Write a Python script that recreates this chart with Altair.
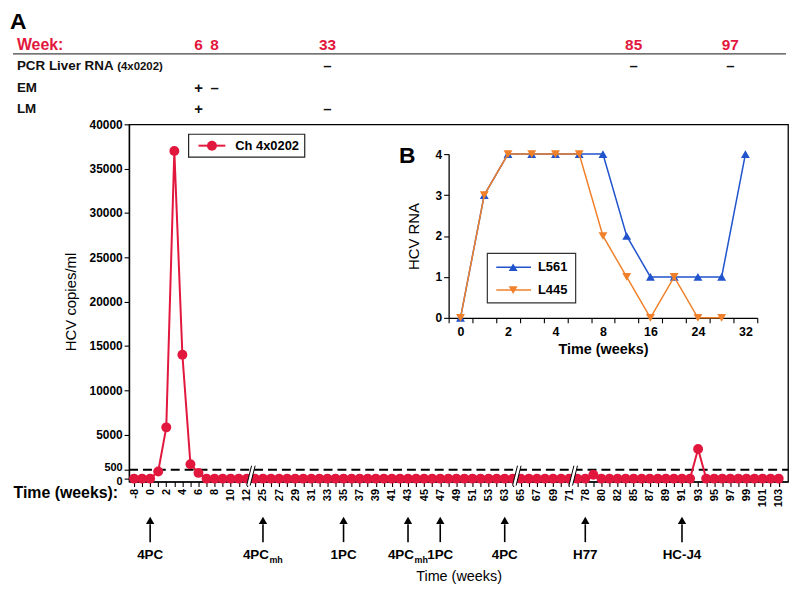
import altair as alt
import pandas as pd

RED = "#e2173d"
BLUE = "#2153cc"
ORANGE = "#f0802a"
FONT = "Liberation Sans"

# ---------------- data (panel A) ----------------
weeks = [-8, -4, 0, 1, 2, 3, 4, 5, 6, 7, 8, 9, 10, 11, 12,
         24, 25, 26, 27, 28, 29, 30, 31, 32, 33, 34, 35, 36, 37, 38, 39, 40,
         41, 42, 43, 44, 45, 46, 47, 48, 49, 50, 51, 52, 53,
         54, 63, 64, 65, 66, 67, 68, 69, 70, 71, 72,
         78, 79, 80, 81, 82, 84, 85, 86, 87, 88, 89, 90, 91, 92, 93, 94, 95,
         96, 97, 98, 99, 100, 101, 102, 103]
hcv = [0, 0, 0, 400, 5800, 37000, 14000, 1200, 320, 0, 0, 0, 0, 0, 0,
       0, 0, 0, 0, 0, 0, 0, 0, 0, 0, 0, 0, 0, 0, 0, 0, 0,
       0, 0, 0, 0, 0, 0, 0, 0, 0, 0, 0, 0, 0,
       0, 0, 0, 0, 0, 0, 0, 0, 0, 0, 0,
       0, 220, 0, 0, 0, 0, 0, 0, 0, 0, 0, 0, 0, 0, 3150, 0, 0,
       0, 0, 0, 0, 0, 0, 0, 0]
detection_limit = [500]
y_ticks = [0, 500, 5000, 10000, 15000, 20000, 25000, 30000, 35000, 40000]
breaks = [14.5, 47.5, 54.5]

arrow_weeks = [0, 25, 35, 43, 47, 63, 78, 91]
arrow_labels = ["4PC", "4PC", "1PC", "4PC", "1PC", "4PC", "H77", "HC-J4"]
arrow_subs = ["", "mh", "", "mh", "", "", "", ""]

table_weeks = [6, 8, 33, 85, 97]
pcr_weeks, pcr_signs = [33, 85, 97], ["–", "–", "–"]
em_weeks, em_signs = [6, 8], ["+", "–"]
lm_weeks, lm_signs = [6, 33], ["+", "–"]

# ---------------- data (panel B) ----------------
inset_weeks = ["0", "1", "2", "3", "4", "6", "8", "12", "16", "20", "24", "28", "32"]
inset_labels = ["0", "2", "4", "8", "16", "24", "32"]
l561 = [0, 3, 4, 4, 4, 4, 4, 2, 1, 1, 1, 1, 4]
l445 = [0, 3, 4, 4, 4, 4, 2, 1, 0, 1, 0, 0]

# ---------------- layout ----------------
W, H = 664, 360
PX = 8.12
one = pd.DataFrame({"k": [0]})

main_df = pd.DataFrame({"idx": list(range(len(weeks))), "week": weeks, "hcv": hcv})
xs = alt.Scale(domain=[-0.616, 81.16], nice=False, zero=False)
ys = alt.Scale(domain=[0, 500, 5000, 40000], range=[357, 348, 312.5, 0], nice=False, zero=False)

label_arr = "[" + ",".join("'%s'" % w for w in weeks) + "]"
xaxis = alt.Axis(values=list(range(len(weeks))),
                 labelExpr="datum.value % 2 == 0 ? " + label_arr + "[datum.value] : ''",
                 labelAngle=270, labelAlign="right", labelBaseline="middle",
                 labelFontSize=11, labelFontWeight="bold", labelPadding=2,
                 labelOverlap=False, labelFlush=False,
                 tickSize=5, grid=False,
                 title="Time (weeks)", titleFontSize=14.5, titleFontWeight="normal",
                 titleY=96, titleBaseline="middle")
yaxis = alt.Axis(values=y_ticks, format="d", labelFontWeight="bold",
                 labelFontSize=alt.ExprRef(expr="datum.value <= 500 ? 11 : 12"),
                 labelOffset=alt.ExprRef(expr="datum.value == 500 ? -2.5 : (datum.value == 0 ? 2.5 : 0)"),
                 labelOverlap=False, tickSize=5, grid=False, labelPadding=2,
                 title="HCV copies/ml", titleFontSize=15, titleFontWeight="normal",
                 titleX=-59, titleBaseline="middle")

Xq = alt.X("idx:Q", scale=xs, axis=xaxis)
Yq = alt.Y("hcv:Q", scale=ys, axis=yaxis)

dash = alt.Chart(pd.DataFrame({"hcv": detection_limit})).mark_rule(
    color="black", strokeWidth=2, strokeDash=[9, 5]).encode(
    x=alt.value(0), x2=alt.value(W), y=Yq)
line = alt.Chart(main_df).mark_line(color=RED, strokeWidth=2).encode(x=Xq, y=Yq)
dots = alt.Chart(main_df).mark_circle(color=RED, size=100, opacity=1).encode(x=Xq, y=Yq)

brk_rows = []
for b in breaks:
    for off, kind in [(0.0, "w"), (-1.8, "k"), (1.8, "k")]:
        brk_rows.append({"idx": b + (off - 2.5) / PX, "idx2": b + (off + 2.5) / PX, "kind": kind})
brk_df = pd.DataFrame(brk_rows)
brk_w = alt.Chart(brk_df).transform_filter("datum.kind == 'w'").mark_rule(
    color="white", strokeWidth=3.5).encode(
    x=Xq, x2="idx2:Q", y=alt.value(364), y2=alt.value(344))
brk_k = alt.Chart(brk_df).transform_filter("datum.kind == 'k'").mark_rule(
    color="black", strokeWidth=1).encode(
    x=Xq, x2="idx2:Q", y=alt.value(364), y2=alt.value(344))

# table above the plot
def idx_of(ws):
    return [weeks.index(w) for w in ws]

hdr_df = pd.DataFrame({"idx": idx_of(table_weeks), "t": [str(w) for w in table_weeks]})
hdr = alt.Chart(hdr_df).mark_text(color=RED, fontSize=15.5, fontWeight="bold",
                                  baseline="middle").encode(x=Xq, y=alt.value(-80), text="t:N")
week_lbl = alt.Chart(one).mark_text(text="Week:", color=RED, fontSize=16, fontWeight="bold",
                                    align="left", baseline="middle").encode(
    x=alt.value(-113), y=alt.value(-80))
hline = alt.Chart(one).mark_rule(color="#444", strokeWidth=1.2).encode(
    x=alt.value(-117), x2=alt.value(662), y=alt.value(-71))

row_layers = []
for ws, ss, yy in [(pcr_weeks, pcr_signs, -59), (em_weeks, em_signs, -37), (lm_weeks, lm_signs, -15)]:
    d = pd.DataFrame({"idx": idx_of(ws), "t": ss})
    row_layers.append(alt.Chart(d).mark_text(fontSize=15, fontWeight="bold", color="#111",
                                             baseline="middle").encode(
        x=Xq, y=alt.value(yy), text="t:N"))
for txt, yy, fs in [("PCR Liver RNA", -59, 13.5), ("EM", -37, 13.5), ("LM", -15, 13.5)]:
    row_layers.append(alt.Chart(one).mark_text(text=txt, fontSize=fs, fontWeight="bold",
                                               color="#111", align="left", baseline="middle").encode(
        x=alt.value(-113), y=alt.value(yy)))
row_layers.append(alt.Chart(one).mark_text(text="(4x0202)", fontSize=11.5, fontWeight="bold",
                                           color="#111", align="left", baseline="middle").encode(
    x=alt.value(-12), y=alt.value(-58)))

panel_a = alt.Chart(one).mark_text(text="A", fontSize=23, fontWeight="bold", align="left",
                                   baseline="middle").encode(x=alt.value(-120), y=alt.value(-103))
time_lbl = alt.Chart(one).mark_text(text="Time (weeks):", fontSize=16, fontWeight="bold",
                                    align="right", baseline="middle").encode(
    x=alt.value(-11), y=alt.value(372))

# arrows
arr_df = pd.DataFrame({"idx": idx_of(arrow_weeks), "lab": arrow_labels, "sub": arrow_subs})
shaft = alt.Chart(arr_df).mark_rule(color="black", strokeWidth=1.6).encode(
    x=Xq, y=alt.value(403), y2=alt.value(421))
head = alt.Chart(arr_df).mark_point(shape="triangle-up", filled=True, color="black",
                                    size=70, opacity=1).encode(x=Xq, y=alt.value(399))
arr_plain = alt.Chart(arr_df).transform_filter("datum.sub == ''").mark_text(
    fontSize=13.5, fontWeight="bold", baseline="middle").encode(x=Xq, y=alt.value(434), text="lab:N")
arr_main = alt.Chart(arr_df).transform_filter("datum.sub != ''").mark_text(
    fontSize=13.5, fontWeight="bold", baseline="middle", align="right", dx=6).encode(
    x=Xq, y=alt.value(434), text="lab:N")
arr_sub = alt.Chart(arr_df).transform_filter("datum.sub != ''").mark_text(
    fontSize=9, fontWeight="bold", baseline="middle", align="left", dx=6.5, dy=5).encode(
    x=Xq, y=alt.value(434), text="sub:N")

# legend A
leg_box = alt.Chart(one).mark_rect(fill="white", stroke="#222", strokeWidth=1.2).encode(
    x=alt.value(60), x2=alt.value(177), y=alt.value(10), y2=alt.value(33))
leg_line = alt.Chart(one).mark_rule(color=RED, strokeWidth=2).encode(
    x=alt.value(70), x2=alt.value(97), y=alt.value(21.5))
leg_dot = alt.Chart(one).mark_circle(color=RED, size=100, opacity=1).encode(
    x=alt.value(83.5), y=alt.value(21.5))
leg_txt = alt.Chart(one).mark_text(text="Ch 4x0202", fontSize=13, fontWeight="bold",
                                   align="left", baseline="middle").encode(
    x=alt.value(107), y=alt.value(21.5))

# panel B label & legend
panel_b = alt.Chart(one).mark_text(text="B", fontSize=23, fontWeight="bold", align="left",
                                   baseline="middle").encode(x=alt.value(272), y=alt.value(32))
ileg_box = alt.Chart(one).mark_rect(fill="white", stroke="#333", strokeWidth=1.2).encode(
    x=alt.value(361), x2=alt.value(450), y=alt.value(130), y2=alt.value(180))
ileg = []
for yy, col, shp, txt in [(144, BLUE, "triangle-up", "L561"), (167, ORANGE, "triangle-down", "L445")]:
    ileg.append(alt.Chart(one).mark_rule(color=col, strokeWidth=1.6).encode(
        x=alt.value(370), x2=alt.value(405), y=alt.value(yy)))
    ileg.append(alt.Chart(one).mark_point(shape=shp, filled=True, color=col, size=80, opacity=1).encode(
        x=alt.value(387), y=alt.value(yy)))
    ileg.append(alt.Chart(one).mark_text(text=txt, fontSize=13, fontWeight="bold",
                                         align="left", baseline="middle").encode(
        x=alt.value(412), y=alt.value(yy)))

main = alt.layer(dash, line, dots, brk_w, brk_k, hdr, week_lbl, hline, *row_layers,
                 panel_a, time_lbl, shaft, head, arr_plain, arr_main, arr_sub,
                 leg_box, leg_line, leg_dot, leg_txt, panel_b)

# ---------------- inset ----------------
b_df = pd.DataFrame({"wk": inset_weeks[:len(l561)], "rna": l561})
o_df = pd.DataFrame({"wk": inset_weeks[:len(l445)], "rna": l445})
ixs = alt.Scale(type="band", domain=inset_weeks, range=[322, 633], paddingInner=0, paddingOuter=0)
iys = alt.Scale(domain=[0, 4], range=[195, 30], nice=False, zero=False)
ixaxis = alt.Axis(orient="bottom", offset=-165, tickBand="extent", labelAngle=0,
                  labelExpr="indexof(" + str(inset_labels) + ", datum.value) >= 0 ? datum.value : ''",
                  labelFontSize=12.5, labelFontWeight="bold", tickSize=5, labelPadding=3,
                  labelOverlap=False, grid=False, title="Time (weeks)", titleFontSize=14.5,
                  titleFontWeight="bold", titleY=32, titleBaseline="middle")
iyaxis = alt.Axis(orient="left", offset=-322, values=[0, 1, 2, 3, 4], format="d", labelFontSize=12,
                  labelFontWeight="bold", tickSize=5, grid=False, title="HCV RNA",
                  labelOverlap=False, titleFontSize=15, titleFontWeight="normal", titleX=-35,
                  titleBaseline="middle")

IX = alt.X("wk:O", scale=ixs, axis=ixaxis, bandPosition=0.5)
IY = alt.Y("rna:Q", scale=iys, axis=iyaxis)
i_b_line = alt.Chart(b_df).mark_line(color=BLUE, strokeWidth=1.5).encode(x=IX, y=IY)
i_b_pts = alt.Chart(b_df).mark_point(shape="triangle-up", filled=True, color=BLUE, size=80,
                                     opacity=1).encode(x=IX, y=IY)
i_o_line = alt.Chart(o_df).mark_line(color=ORANGE, strokeWidth=1.5).encode(x=IX, y=IY)
i_o_pts = alt.Chart(o_df).mark_point(shape="triangle-down", filled=True, color=ORANGE, size=80,
                                     opacity=1).encode(x=IX, y=IY)
inset = alt.layer(i_b_line, i_b_pts, i_o_line, i_o_pts, ileg_box, *ileg)

chart = alt.layer(main, inset).resolve_scale(x="independent", y="independent").resolve_axis(
    x="independent", y="independent").properties(
    width=W, height=H,
    padding={"left": 122, "top": 115, "right": 4, "bottom": 105},
    autosize=alt.AutoSizeParams(type="none"),
).configure(font=FONT).configure_view(stroke="black", strokeWidth=1.3).configure_axis(
    labelFont=FONT, titleFont=FONT, labelColor="black", titleColor="black",
    domainColor="black", tickColor="black", domainWidth=1.3, tickWidth=1.1,
    labelOverlap=False)

chart.save("out.html", embed_options={"renderer": "svg", "actions": False})
